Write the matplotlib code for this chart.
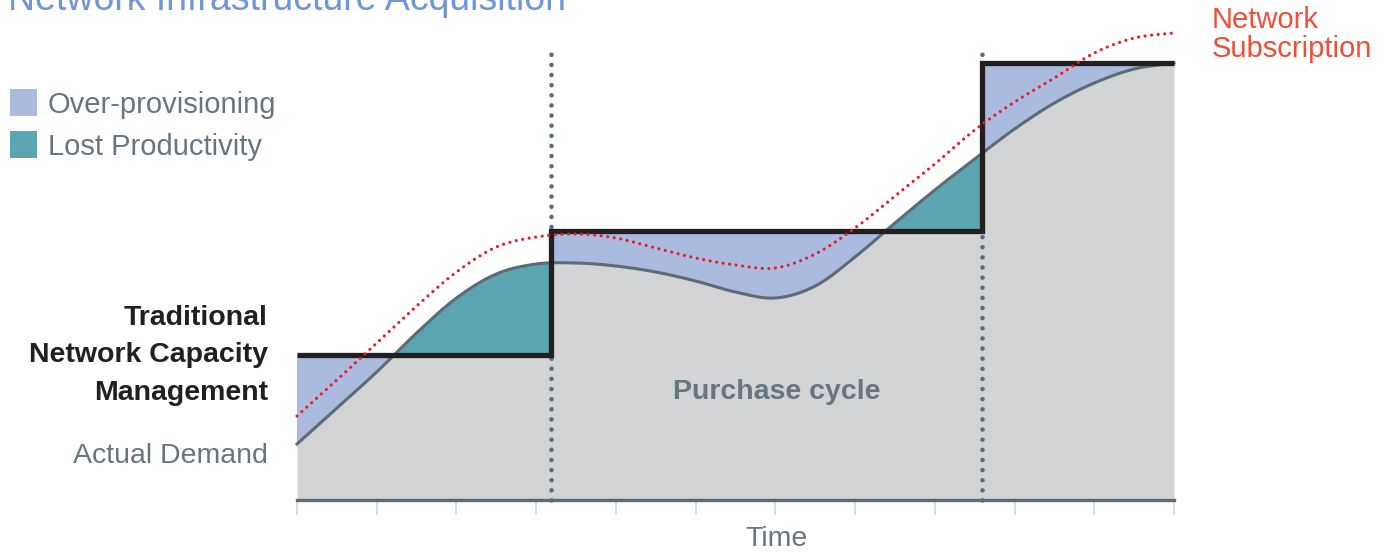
import numpy as np
import matplotlib
matplotlib.use("Agg")
import matplotlib.pyplot as plt
from matplotlib.patches import Rectangle

plt.rcParams["font.family"] = ["Liberation Sans", "DejaVu Sans"]

# time axis runs over 11 tick intervals; curves read every half tick
time_pts = [0, 0.5, 1, 1.5, 2, 2.5, 3, 3.5, 4, 4.5, 5, 5.5,
            6, 6.5, 7, 7.5, 8, 8.5, 9, 9.5, 10, 10.5, 11]
actual_demand = [0.56, 0.92, 1.28, 1.67, 2.02, 2.26, 2.36, 2.37, 2.34, 2.28, 2.19, 2.08,
                 2.02, 2.14, 2.43, 2.77, 3.10, 3.41, 3.71, 3.97, 4.17, 4.31, 4.37]
subscription = [0.84, 1.20, 1.57, 1.94, 2.28, 2.53, 2.63, 2.66, 2.62, 2.52, 2.42, 2.35,
                2.32, 2.46, 2.72, 3.04, 3.36, 3.70, 3.98, 4.22, 4.47, 4.62, 4.67]

# traditional capacity: purchases at the two cycle boundaries
purchase_times = [0, 3.19, 8.595, 11]
capacity_levels = [1.45, 2.69, 4.37, 4.37]

legend_labels = ["Over-provisioning", "Lost Productivity"]
left_labels = ["Traditional", "Network Capacity", "Management"]

GRAY_FILL = "#d1d3d5"
BLUE = "#aabbdf"
TEAL = "#5ba4b1"
LINE_GRAY = "#5d6b74"
TEXT_GRAY = "#67767e"
BLACK = "#231f20"
RED = "#ec1c24"
W, H = 1390, 552


def smooth(x, y, xs):
    """Cubic Hermite curve through the read points (rendering only)."""
    x, y = np.asarray(x, float), np.asarray(y, float)
    m = np.gradient(y, x)
    i = np.clip(np.searchsorted(x, xs) - 1, 0, len(x) - 2)
    h = x[i + 1] - x[i]
    t = (xs - x[i]) / h
    return ((2 * t**3 - 3 * t**2 + 1) * y[i] + (t**3 - 2 * t**2 + t) * h * m[i]
            + (-2 * t**3 + 3 * t**2) * y[i + 1] + (t**3 - t**2) * h * m[i + 1])


def fx(px):
    return px / W


def fy(py):
    return 1 - py / H


fig = plt.figure(figsize=(13.9, 5.52), dpi=100)
ax = fig.add_axes([fx(297), fy(500), (1174 - 297) / W, 500 / H])
ax.set_xlim(0, 11)
ax.set_ylim(0, 5.0)
ax.patch.set_visible(False)

xs = np.linspace(0, 11, 2201)
dem = smooth(time_pts, actual_demand, xs)
sub = smooth(time_pts, subscription, xs)
idx = np.clip(np.searchsorted(purchase_times, xs, side="right") - 1, 0, 2)
cap = np.asarray(capacity_levels)[idx]

ax.fill_between(xs, 0, dem, color=GRAY_FILL, lw=0, zorder=1)
ax.fill_between(xs, dem, cap, where=cap >= dem, interpolate=True, color=BLUE, lw=0, zorder=1)
ax.fill_between(xs, dem, cap, where=dem > cap, interpolate=True, color=TEAL, lw=0, zorder=1)

for t in purchase_times[1:3]:
    ax.plot([t, t], [0, 4.55], color=LINE_GRAY, lw=3.3, ls=(0, (0.01, 2.2)),
            dash_capstyle="round", zorder=2, clip_on=False)

ax.plot(xs, dem, color=LINE_GRAY, lw=2.2, zorder=3, clip_on=False)
ax.plot(purchase_times, capacity_levels, drawstyle="steps-post", color=BLACK, lw=3.8,
        solid_joinstyle="miter", solid_capstyle="butt", zorder=4, clip_on=False)
ax.plot(xs, sub, color=RED, lw=2.3, ls=(0, (0.01, 2.05)), dash_capstyle="round",
        zorder=5, clip_on=False)

for s in ["top", "right", "left"]:
    ax.spines[s].set_visible(False)
ax.spines["bottom"].set_color(LINE_GRAY)
ax.spines["bottom"].set_linewidth(2.4)
ax.spines["bottom"].set_zorder(6)
ax.set_xticks(range(12))
ax.set_xticklabels([])
ax.tick_params(axis="x", direction="out", length=10.5, width=1.1, color="#cdd3da")
ax.set_yticks([])

ax.text(6.02, 1.01, "Purchase cycle", ha="center", va="baseline", fontsize=20.5,
        fontweight="bold", color=TEXT_GRAY, zorder=7)

# texts outside the axes
fig.text(fx(8), fy(10), "Network Infrastructure Acquisition", fontsize=27,
         color="#6f96d6", va="baseline")
for i, (lab, col) in enumerate(zip(legend_labels, [BLUE, TEAL])):
    top = 89 + 42 * i
    fig.add_artist(Rectangle((fx(10), fy(top + 27)), 27 / W, 27 / H,
                             transform=fig.transFigure, color=col, lw=0))
    fig.text(fx(48), fy(113 + 42 * i), lab, fontsize=21, color=TEXT_GRAY, va="baseline")

for i, lab in enumerate(left_labels):
    fig.text(fx(268), fy(325 + 37.5 * i), lab, fontsize=20.5, fontweight="bold",
             color=BLACK, ha="right", va="baseline")
fig.text(fx(268), fy(463), "Actual Demand", fontsize=20.5, color=TEXT_GRAY,
         ha="right", va="baseline")
fig.text(fx(1212), fy(28), "Network", fontsize=21, color="#f04e37", va="baseline")
fig.text(fx(1212), fy(57), "Subscription", fontsize=21, color="#f04e37", va="baseline")
fig.text(fx(777), fy(546), "Time", fontsize=20.5, color=TEXT_GRAY, ha="center",
         va="baseline")

fig.savefig("out.png", dpi=100)
